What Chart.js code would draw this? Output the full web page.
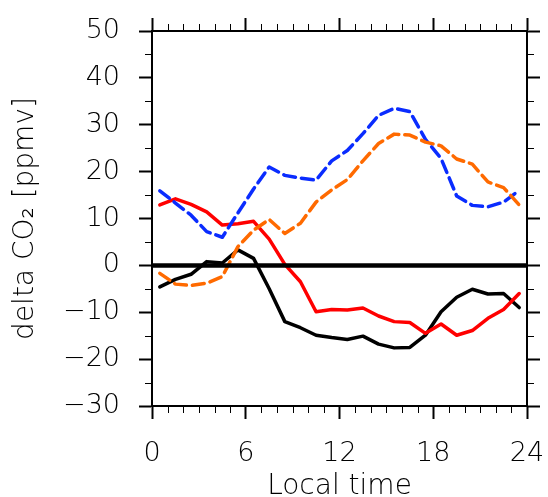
<!DOCTYPE html>
<html>
<head>
<meta charset="utf-8">
<script src="https://cdn.jsdelivr.net/npm/chart.js@4/dist/chart.umd.min.js"></script>
<style>
  html, body { margin: 0; padding: 0; background: #fff; }
  #wrap { width: 548px; height: 497px; }
</style>
</head>
<body>
<div id="wrap"><canvas id="c" width="548" height="497"></canvas></div>
<script>
// Local time (hour centres)
const hours = [0.5,1.5,2.5,3.5,4.5,5.5,6.5,7.5,8.5,9.5,10.5,11.5,12.5,13.5,14.5,15.5,16.5,17.5,18.5,19.5,20.5,21.5,22.5,23.5];
// delta CO2 [ppmv]
const blueSeries   = [15.9,13.3,10.7,7.2,6.0,11.2,16.3,21.0,19.2,18.6,18.2,22.3,24.5,28.1,32.0,33.5,32.8,26.9,22.8,14.8,12.8,12.5,13.5,16.0];
const orangeSeries = [-1.7,-4.0,-4.3,-3.8,-2.4,4.0,7.5,9.8,6.8,9.0,13.5,16.1,18.3,22.3,26.0,28.0,27.8,26.3,25.5,22.7,21.6,17.8,16.6,12.9];
const redSeries    = [12.9,14.2,13.0,11.4,8.6,8.9,9.4,5.6,0.2,-3.5,-9.9,-9.4,-9.5,-9.1,-10.8,-12.0,-12.2,-14.5,-12.5,-14.9,-13.9,-11.3,-9.4,-6.0];
const blackSeries  = [-4.6,-3.0,-1.9,0.8,0.5,3.3,1.5,-5.0,-12.0,-13.3,-14.9,-15.4,-15.8,-15.1,-16.8,-17.6,-17.5,-14.9,-9.9,-6.8,-5.1,-6.1,-6.0,-9.0];
const zeroLine = [0, 0];
const zeroX = [0, 24];
const xTicks = [0, 6, 12, 18, 24];
const yTicks = [-30, -20, -10, 0, 10, 20, 30, 40, 50];

const pts = (xs, ys) => xs.map((x, i) => ({x: x, y: ys[i]}));
const FONT = "'DejaVu Sans', sans-serif";
const WEIGHT = 200;

const minorTicks = {
  id: 'minorTicks',
  afterDraw(chart) {
    const ctx = chart.ctx;
    const a = chart.chartArea;
    const xs = chart.scales.x, ys = chart.scales.y;
    ctx.save();
    ctx.strokeStyle = '#000';
    ctx.lineWidth = 1;
    ctx.beginPath();
    for (let h = 1; h < 24; h++) {
      if (h % 6 === 0) continue;
      const px = Math.round(xs.getPixelForValue(h)) + 0.5;
      ctx.moveTo(px, a.bottom); ctx.lineTo(px, a.bottom + 7);
      ctx.moveTo(px, a.top); ctx.lineTo(px, a.top - 7);
    }
    for (let v = -25; v < 50; v += 10) {
      const py = Math.round(ys.getPixelForValue(v)) + 0.5;
      ctx.moveTo(a.left, py); ctx.lineTo(a.left - 7, py);
      ctx.moveTo(a.right, py); ctx.lineTo(a.right + 7, py);
    }
    ctx.stroke();
    ctx.restore();
  }
};

const noPad = s => { s.paddingTop = 0; s.paddingBottom = 0; s.paddingLeft = 0; s.paddingRight = 0; };
const dsBase = { pointRadius: 0, borderWidth: 3.5, fill: false, tension: 0, borderJoinStyle: 'round', borderCapStyle: 'round' };

new Chart(document.getElementById('c'), {
  type: 'line',
  data: {
    datasets: [
      Object.assign({}, dsBase, { label: 'zero', data: pts(zeroX, zeroLine), borderColor: '#000', borderWidth: 4.5, borderCapStyle: 'butt' }),
      Object.assign({}, dsBase, { label: 'orange', data: pts(hours, orangeSeries), borderColor: '#ff6a00', borderDash: [12, 6] }),
      Object.assign({}, dsBase, { label: 'blue', data: pts(hours, blueSeries), borderColor: '#0a2cff', borderDash: [12, 6] }),
      Object.assign({}, dsBase, { label: 'red', data: pts(hours, redSeries), borderColor: '#ff0000' }),
      Object.assign({}, dsBase, { label: 'black', data: pts(hours, blackSeries), borderColor: '#000000' })
    ]
  },
  options: {
    responsive: false,
    animation: false,
    events: [],
    layout: { padding: 0 },
    plugins: { legend: { display: false }, tooltip: { enabled: false } },
    scales: {
      x: {
        type: 'linear', position: 'bottom', min: 0, max: 24,
        afterBuildTicks: s => { s.ticks = xTicks.map(v => ({value: v})); },
        afterFit: s => { s.height = 91; noPad(s); },
        grid: { drawOnChartArea: false, tickLength: 13, tickWidth: 2, tickColor: '#000' },
        border: { color: '#000', width: 2 },
        ticks: { color: '#000', font: { family: FONT, size: 27, weight: WEIGHT }, padding: 19, maxRotation: 0, autoSkip: false },
        title: { display: true, text: 'Local time', color: '#000', font: { family: FONT, size: 28, weight: WEIGHT, lineHeight: 0.7 }, padding: { top: 0, bottom: 0 } }
      },
      xTop: {
        type: 'linear', position: 'top', min: 0, max: 24,
        afterBuildTicks: s => { s.ticks = xTicks.map(v => ({value: v})); },
        afterFit: s => { s.height = 31; noPad(s); },
        grid: { drawOnChartArea: false, tickLength: 13, tickWidth: 2, tickColor: '#000' },
        border: { color: '#000', width: 2 },
        ticks: { display: false }
      },
      y: {
        type: 'linear', position: 'left', min: -30, max: 50,
        afterBuildTicks: s => { s.ticks = yTicks.map(v => ({value: v})); },
        afterFit: s => { s.width = 152; noPad(s); },
        grid: { drawOnChartArea: false, tickLength: 13, tickWidth: 2, tickColor: '#000' },
        border: { color: '#000', width: 2 },
        ticks: { color: '#000', font: { family: FONT, size: 27, weight: WEIGHT }, padding: 19,
                 callback: v => (v < 0 ? '\u2212' + Math.abs(v) : String(v)) },
        title: { display: true, text: 'delta CO\u2082 [ppmv]', color: '#000', font: { family: FONT, size: 28, weight: WEIGHT, lineHeight: 1 }, padding: { top: 12, bottom: 0 } }
      },
      yRight: {
        type: 'linear', position: 'right', min: -30, max: 50,
        afterBuildTicks: s => { s.ticks = yTicks.map(v => ({value: v})); },
        afterFit: s => { s.width = 21; noPad(s); },
        grid: { drawOnChartArea: false, tickLength: 13, tickWidth: 2, tickColor: '#000' },
        border: { color: '#000', width: 2 },
        ticks: { display: false }
      }
    }
  },
  plugins: [minorTicks]
});
</script>
</body>
</html>
